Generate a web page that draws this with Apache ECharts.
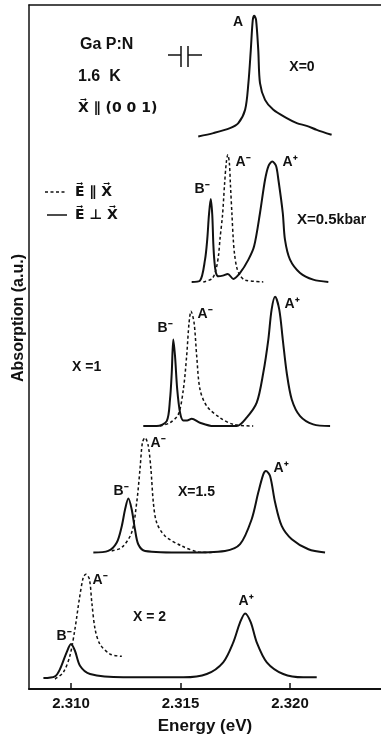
<!DOCTYPE html>
<html><head><meta charset="utf-8">
<script src="https://cdn.jsdelivr.net/npm/echarts@6/dist/echarts.min.js"></script>
<style>html,body{margin:0;padding:0;background:#fff}#c{width:381px;height:740px}</style>
</head><body><div id="c"></div>
<script>
// ---- data (energy in eV, absorption in arbitrary units incl. vertical offset) ----
const tickValues = [2.310, 2.315, 2.320];

const eX0 = [2.31581,2.31650,2.31726,2.31764,2.31795,2.31810,2.31821,2.31830,2.31837,2.31845,2.31855,2.31863,2.31886,2.31924,2.31985,2.32031,2.32076,2.32122,2.32190];
const aX0 = [553.3,556.7,561.7,566.7,580,606.7,640,670,674.3,670,640,606.7,590,580,571.7,566.7,564,560,555];

const eX05s = [2.31551,2.31589,2.31612,2.31622,2.31630,2.31638,2.31645,2.31650,2.31655,2.31662,2.31673,2.31693,2.31716,2.31741,2.31772,2.31810,2.31836,2.31863,2.31886,2.31902,2.31919,2.31936,2.31947,2.31967,2.31977,2.32000,2.32046,2.32106,2.32175];
const aX05s = [407.7,409,430,450,475,490.7,475,445,428,416.7,413.3,414,415.7,410.7,416.7,430,443.3,476.7,510,524,528.3,524,510,476.7,450,430,416.7,410,407.7];
const eX05d = [2.31604,2.31644,2.31662,2.31674,2.31680,2.31692,2.31701,2.31709,2.31716,2.31723,2.31728,2.31735,2.31741,2.31747,2.31757,2.31772,2.31795,2.31878];
const aX05d = [407.7,411,420,435,450,475,505,527,535,527,505,475,450,435,422,414,409.5,407.7];

const eX1s = [2.31330,2.31391,2.31437,2.31452,2.31460,2.31467,2.31475,2.31485,2.31498,2.31513,2.31530,2.31551,2.31589,2.31650,2.31757,2.31802,2.31848,2.31878,2.31901,2.31916,2.31932,2.31951,2.31967,2.31985,2.32008,2.32046,2.32106,2.32183];
const aX1s = [263.3,263.3,268.3,290,316.7,350,333.3,300,276.7,269,269,270.7,266.7,263.3,263.3,271.7,286.7,316.7,350,380,392.7,380,350,316.7,290,273.3,265,263.3];
const eX1d = [2.31406,2.31452,2.31490,2.31513,2.31528,2.31539,2.31548,2.31562,2.31574,2.31589,2.31620,2.31680,2.31741,2.31832];
const aX1d = [263.3,266.7,275,300,333.3,366.7,378.3,366.7,333.3,300,283.3,271.7,265,263.3];

const eX15s = [2.31102,2.31170,2.31209,2.31232,2.31247,2.31262,2.31277,2.31292,2.31307,2.31338,2.31521,2.31703,2.31772,2.31825,2.31855,2.31878,2.31890,2.31909,2.31932,2.31962,2.32008,2.32084,2.32160];
const aX15s = [136.7,138.3,146.7,163.3,180,190.7,180,160,145,138.3,136.7,138.3,145,170,196.7,215,218.3,213.3,186.7,163.3,150,140,136.7];
const eX15d = [2.31186,2.31232,2.31277,2.31300,2.31315,2.31326,2.31338,2.31353,2.31365,2.31376,2.31391,2.31429,2.31505,2.31581,2.31642];
const aX15d = [138.3,141.7,156.7,186.7,220,246.7,251.7,243.3,220,186.7,166.7,153.3,143.3,137.3,136.7];

const eX2s = [2.30874,2.30927,2.30950,2.30980,2.31000,2.31018,2.31041,2.31087,2.31239,2.31513,2.31620,2.31695,2.31741,2.31772,2.31795,2.31821,2.31848,2.31894,2.31969,2.32061,2.32122];
const aX2s = [11,12.7,20,36.7,45,38.3,23.3,15,11.7,11.7,15,26.7,46.7,66.7,75.7,66.7,46.7,26.7,15,11.7,11.7];
const eX2d = [2.30927,2.30965,2.30995,2.31018,2.31038,2.31056,2.31068,2.31084,2.31095,2.31110,2.31132,2.31178,2.31232];
const aX2d = [10,16.7,33.3,60,90,111.7,115,110,86.7,60,45,35,32.7];

// ---- chart ----
const zip = (e, a) => e.map((v, i) => [v, a[i]]);
const FONT = 'bold 14px "Liberation Sans", Arial, sans-serif';
const solidStyle = { color: '#111', width: 2 };
const dashStyle = { color: '#111', width: 1.5, type: [3, 2.5] };
function line(name, e, a, dashed) {
  return { name, type: 'line', data: zip(e, a), showSymbol: false, smooth: 0.3,
    lineStyle: dashed ? dashStyle : solidStyle, silent: true, animation: false };
}
function txt(x, y, text, opts) {
  opts = opts || {};
  return { type: 'text', x, y, silent: true, style: Object.assign({ text, font: FONT, fill: '#111',
    textAlign: opts.align || 'center', textVerticalAlign: 'middle' }, opts.style || {}) };
}
const chart = echarts.init(document.getElementById('c'), null, { renderer: 'canvas' });
chart.setOption({
  animation: false,
  backgroundColor: '#fff',
  grid: { left: 29, right: 0, top: 5, bottom: 50 },
  xAxis: [{
    type: 'value', min: 2.308082, max: 2.324155, position: 'bottom',
    axisLine: { lineStyle: { color: '#111', width: 2 } },
    axisTick: { inside: true, length: 6, lineStyle: { color: '#111', width: 1.5 }, customValues: tickValues },
    axisLabel: { customValues: tickValues, formatter: v => v.toFixed(3), color: '#111', margin: 7,
      fontFamily: '"Liberation Sans", Arial, sans-serif', fontWeight: 'bold', fontSize: 15 },
    splitLine: { show: false },
    name: 'Energy (eV)', nameLocation: 'middle', nameGap: 29,
    nameTextStyle: { color: '#111', fontFamily: '"Liberation Sans", Arial, sans-serif', fontWeight: 'bold', fontSize: 17 }
  }, {
    type: 'value', min: 2.308082, max: 2.324155, position: 'top',
    axisLine: { show: true, lineStyle: { color: '#111', width: 1.5 } },
    axisTick: { show: false }, axisLabel: { show: false }, splitLine: { show: false }
  }],
  yAxis: {
    type: 'value', min: 0, max: 685,
    axisLine: { show: true, lineStyle: { color: '#111', width: 1.5 } },
    axisTick: { show: false }, axisLabel: { show: false }, splitLine: { show: false }
  },
  series: [
    line('X=0', eX0, aX0, false),
    line('X=0.5 E⊥X', eX05s, aX05s, false),
    line('X=0.5 E∥X', eX05d, aX05d, true),
    line('X=1 E⊥X', eX1s, aX1s, false),
    line('X=1 E∥X', eX1d, aX1d, true),
    line('X=1.5 E⊥X', eX15s, aX15s, false),
    line('X=1.5 E∥X', eX15d, aX15d, true),
    line('X=2 E⊥X', eX2s, aX2s, false),
    line('X=2 E∥X', eX2d, aX2d, true)
  ],
  graphic: [
    { type: 'text', x: 19, y: 318, rotation: Math.PI / 2, silent: true,
      style: { text: 'Absorption (a.u.)', font: 'bold 16px "Liberation Sans", Arial, sans-serif', fill: '#111',
        textAlign: 'center', textVerticalAlign: 'middle' } },
    txt(80, 45, 'Ga P:N', { align: 'left', style: { font: 'bold 16px "Liberation Sans", Arial, sans-serif' } }),
    txt(78, 77, '1.6  K', { align: 'left', style: { font: 'bold 16px "Liberation Sans", Arial, sans-serif' } }),
    txt(78, 108, 'X\u20D7 \u2225 (0 0 1)', { align: 'left', style: { font: 'bold 14px "DejaVu Sans", "Liberation Sans", sans-serif' } }),
    // stress symbol
    { type: 'line', silent: true, shape: { x1: 168, y1: 55, x2: 181, y2: 55 }, style: { stroke: '#111', lineWidth: 1.5 } },
    { type: 'line', silent: true, shape: { x1: 181, y1: 46, x2: 181, y2: 67 }, style: { stroke: '#111', lineWidth: 1.5 } },
    { type: 'line', silent: true, shape: { x1: 188, y1: 46, x2: 188, y2: 67 }, style: { stroke: '#111', lineWidth: 1.5 } },
    { type: 'line', silent: true, shape: { x1: 188, y1: 55, x2: 202, y2: 55 }, style: { stroke: '#111', lineWidth: 1.5 } },
    // legend
    { type: 'line', silent: true, shape: { x1: 45, y1: 192, x2: 67, y2: 192 }, style: { stroke: '#111', lineWidth: 1.5, lineDash: [3, 2.5] } },
    { type: 'line', silent: true, shape: { x1: 47, y1: 215, x2: 67, y2: 215 }, style: { stroke: '#111', lineWidth: 1.5 } },
    txt(75, 192, 'E\u20D7 \u2225 X\u20D7', { align: 'left', style: { font: 'bold 14px "DejaVu Sans", sans-serif' } }),
    txt(75, 215, 'E\u20D7 \u22A5 X\u20D7', { align: 'left', style: { font: 'bold 14px "DejaVu Sans", sans-serif' } }),
    // X=0
    txt(238, 22, 'A'),
    txt(302, 67, 'X=0'),
    // X=0.5
    txt(202, 189, 'B\u207B'), txt(243, 162, 'A\u207B'), txt(290, 162, 'A\u207A'),
    { type: 'text', x: 297, y: 220, silent: true, style: { text: '{a|X=0.5}{b|kbar}', textVerticalAlign: 'middle', fill: '#111',
        rich: { a: { font: 'bold 15px "Liberation Sans", Arial, sans-serif', fill: '#111' }, b: { font: 'bold 14px "Liberation Sans", Arial, sans-serif', fill: '#111' } } } },
    // X=1
    txt(165, 328, 'B\u207B'), txt(205, 314, 'A\u207B'), txt(292, 304, 'A\u207A'),
    txt(72, 367, 'X =1', { align: 'left' }),
    // X=1.5
    txt(121, 491, 'B\u207B'), txt(158, 443, 'A\u207B'), txt(281, 468, 'A\u207A'),
    txt(178, 492, 'X=1.5', { align: 'left' }),
    // X=2
    txt(64, 636, 'B\u207B'), txt(100, 580, 'A\u207B'), txt(246, 601, 'A\u207A'),
    txt(133, 617, 'X = 2', { align: 'left' })
  ]
});
</script></body></html>
